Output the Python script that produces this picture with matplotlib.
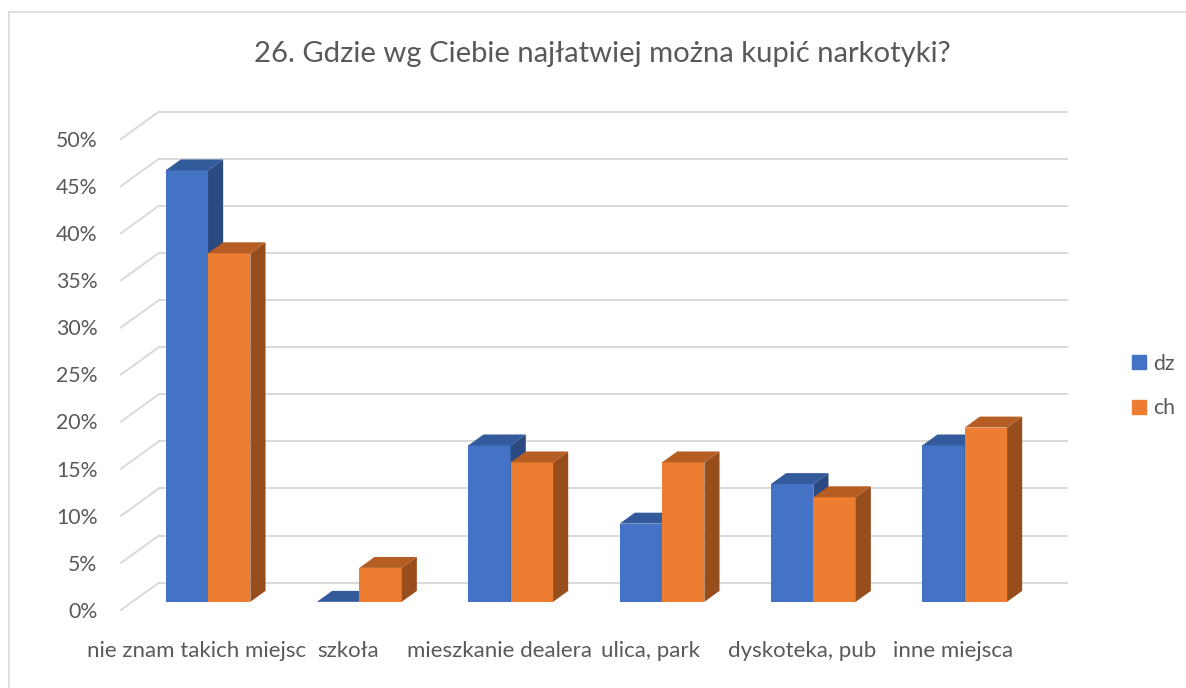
import numpy as np
import matplotlib.pyplot as plt
from matplotlib.patches import Polygon, Patch
from matplotlib.lines import Line2D

# data (percent)
categories = ['nie znam takich miejsc', 'szkoła', 'mieszkanie dealera',
              'ulica, park', 'dyskoteka, pub', 'inne miejsca']
dz = [45.8, 0.0, 16.6, 8.3, 12.5, 16.6]
ch = [37.0, 3.6, 14.8, 14.8, 11.1, 18.5]
series_names = ['dz', 'ch']
yticks = np.arange(0, 51, 5)

title = '26. Gdzie wg Ciebie najłatwiej można kupić narkotyki?'

# colours: front, top, side
dz_cols = ('#4472C4', '#335A9A', '#2B4A82')
ch_cols = ('#ED7D31', '#B55D22', '#984E1C')
grid_col = '#D9D9D9'
text_col = '#595959'

plt.rcParams['font.family'] = ['Lato', 'DejaVu Sans']

W, H = 1186, 688
fig = plt.figure(figsize=(W / 100, H / 100), dpi=100)

# axes = front plane of the 3d box
x0, x1, yb, yt = 121, 1029, 610, 139
ax = fig.add_axes([x0 / W, 1 - yb / H, (x1 - x0) / W, (yb - yt) / H])
ax.set_xlim(0, len(categories))
ax.set_ylim(0, 50)
ax.axis('off')

DX, DY = 0.25, 2.9        # full depth of the box (data units)
d0, d1 = 0.3, 0.7         # bar depth range (fraction)
bw = 0.28

# walls: side diagonals + back wall gridlines
for t in yticks:
    ax.plot([0, DX], [t, t + DY], color=grid_col, lw=1.4, clip_on=False, zorder=1)
    ax.plot([DX, len(categories) + DX], [t + DY, t + DY], color=grid_col, lw=1.4,
            clip_on=False, zorder=1)
    ax.text(-0.155, t - 0.2, f'{t}%', ha='right', va='center', fontsize=15.3, color=text_col)


def bar3d(xl, v, cols, z):
    xs, ys = xl + d0 * DX, d0 * DY
    ax.bar(xs, v, width=bw, bottom=ys, align='edge', color=cols[0], zorder=z,
           clip_on=False, linewidth=0)
    ddx, ddy = (d1 - d0) * DX, (d1 - d0) * DY
    xr, top = xs + bw, ys + v
    side = [(xr, ys), (xr, top), (xr + ddx, top + ddy), (xr + ddx, ys + ddy)]
    lid = [(xs, top), (xr, top), (xr + ddx, top + ddy), (xs + ddx, top + ddy)]
    ax.add_patch(Polygon(side, closed=True, fc=cols[2], ec='none', zorder=z, clip_on=False))
    ax.add_patch(Polygon(lid, closed=True, fc=cols[1], ec='none', zorder=z, clip_on=False))


for i in range(len(categories)):
    c = i + 0.5
    bar3d(c - bw, dz[i], dz_cols, 3 + 2 * i)
    bar3d(c, ch[i], ch_cols, 4 + 2 * i)
    ax.text(c, -4.3, categories[i], ha='center', va='center', fontsize=16, color=text_col)

fig.text(602 / W, 1 - 54 / H, title, ha='center', va='center', fontsize=21.1, color=text_col)

handles = [Patch(color=dz_cols[0]), Patch(color=ch_cols[0])]
fig.legend(handles, series_names, loc='center left', bbox_to_anchor=(1113 / W, 1 - 386 / H),
           frameon=False, handlelength=0.65, handleheight=0.65, handletextpad=0.35,
           labelspacing=1.15, prop={'size': 15.3}, labelcolor=text_col)

# chart border (only left and top visible)
fig.add_artist(Line2D([9 / W, 9 / W], [0, 1 - 12 / H], color=grid_col, lw=1.2))
fig.add_artist(Line2D([9 / W, 1], [1 - 12 / H, 1 - 12 / H], color=grid_col, lw=1.2))

fig.savefig('out.png', dpi=100)
